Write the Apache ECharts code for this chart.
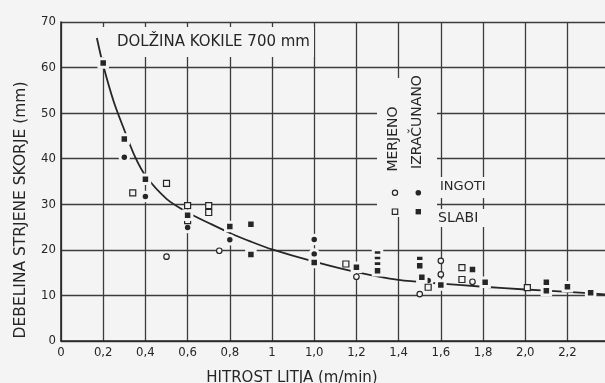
<!DOCTYPE html>
<html>
<head>
<meta charset="utf-8">
<script src="https://cdn.jsdelivr.net/npm/echarts@6/dist/echarts.min.js"></script>
<style>
  html, body { margin: 0; padding: 0; background: #f4f4f4; }
  #chart { width: 605px; height: 383px; }
</style>
</head>
<body>
<div id="chart"></div>
<script>
// Casting speed axis: equally spaced steps of 0.2, printed labels below
const xTickLabels = ['0', '0,2', '0,4', '0,6', '0,8', '1', '1,0', '1,2', '1,4', '1,6', '1,8', '2,0', '2,2'];
const yTicks = [0, 10, 20, 30, 40, 50, 60, 70];

// Fitted shell-thickness curve (axis position, mm)
const curveX = [0.17, 0.2, 0.25, 0.3, 0.35, 0.4, 0.5, 0.6, 0.7, 0.8, 0.9, 1.0, 1.2, 1.4, 1.6, 1.8, 2.0, 2.2, 2.4, 2.58];
const curveY = [66.5, 60.5, 52.5, 46.3, 40.5, 36.3, 31.2, 28.2, 25.9, 23.7, 21.8, 20.1, 17.4, 15.1, 13.4, 12.6, 11.9, 11.3, 10.8, 10.2];

// Ingots, measured (open circles)
const ingMeasX = [0.5, 0.75, 1.4, 1.7, 1.8, 1.8, 1.95];
const ingMeasY = [18.5, 19.8, 14.1, 10.3, 17.6, 14.6, 13.0];

// Ingots, calculated (filled dots)
const ingCalcX = [0.3, 0.4, 0.6, 0.8, 1.2, 1.2, 1.74];
const ingCalcY = [40.3, 31.7, 24.9, 22.2, 22.3, 19.1, 13.3];

// Slabs, measured (open squares)
const slabMeasX = [0.34, 0.5, 0.6, 0.6, 0.7, 0.7, 1.35, 1.74, 1.9, 1.9, 2.21];
const slabMeasY = [32.5, 34.6, 29.7, 26.4, 29.7, 28.2, 16.9, 11.8, 16.1, 13.5, 11.7];

// Slabs, calculated (filled squares)
const slabCalcX = [0.2, 0.3, 0.4, 0.6, 0.8, 0.9, 0.9, 1.2, 1.4, 1.5, 1.5, 1.5, 1.5, 1.7, 1.7, 1.71, 1.8, 1.95, 2.01, 2.3, 2.3, 2.4, 2.51];
const slabCalcY = [61, 44.3, 35.5, 27.6, 25.1, 25.6, 19.0, 17.2, 16.2, 19.1, 17.9, 16.7, 15.4, 17.9, 16.5, 14.0, 12.3, 15.7, 12.9, 12.9, 11.0, 11.9, 10.6];

const BG = '#f4f4f4';
const INK = '#262626';
const GRID_INK = '#3c3c3c';
const LABEL_FONT = '"DejaVu Sans Condensed", "DejaVu Sans", sans-serif';
const TEXT_FONT = '"DejaVu Sans", sans-serif';

const zip = (xs, ys) => xs.map((x, i) => [x, ys[i]]);

const chart = echarts.init(document.getElementById('chart'), null, { renderer: 'canvas' });

// filled marks get a ring in the paper colour so lines break around them
const filledStyle = { color: INK, borderColor: BG, borderWidth: 3, opacity: 1 };
const openStyle = { color: BG, borderColor: INK, borderWidth: 1.2, opacity: 1 };

chart.setOption({
  backgroundColor: BG,
  animation: false,
  grid: { left: 61, right: 0, top: 22, bottom: 42, containLabel: false },
  xAxis: {
    type: 'value',
    min: 0,
    max: 2.578,
    interval: 0.2,
    axisLine: { show: true, lineStyle: { color: INK, width: 1.6 } },
    axisTick: { show: false },
    axisLabel: {
      margin: 5,
      color: INK,
      fontFamily: LABEL_FONT,
      fontSize: 13,
      showMaxLabel: false,
      formatter: v => {
        const i = Math.round(v / 0.2);
        return Math.abs(v - i * 0.2) < 1e-6 && xTickLabels[i] !== undefined ? xTickLabels[i] : '';
      }
    },
    splitLine: { show: true, showMaxLine: false, lineStyle: { color: GRID_INK, width: 1.3 } }
  },
  yAxis: {
    type: 'value',
    min: yTicks[0],
    max: yTicks[yTicks.length - 1],
    interval: 10,
    axisLine: { show: true, lineStyle: { color: INK, width: 1.6 } },
    axisTick: { show: false },
    axisLabel: { margin: 5, color: INK, fontFamily: LABEL_FONT, fontSize: 13 },
    splitLine: { show: true, lineStyle: { color: GRID_INK, width: 1.3 } }
  },
  graphic: [
    // clear patches behind the lettering
    { type: 'rect', z: 1, shape: { x: 94, y: 27, width: 220, height: 30 }, style: { fill: BG } },
    { type: 'rect', z: 1, shape: { x: 377, y: 78, width: 60, height: 139 }, style: { fill: BG } },
    { type: 'rect', z: 1, shape: { x: 437, y: 177, width: 52, height: 21 }, style: { fill: BG } },
    { type: 'rect', z: 1, shape: { x: 437, y: 209, width: 48, height: 18 }, style: { fill: BG } },
    { type: 'text', z: 5, x: 117, y: 42, style: { text: 'DOLŽINA KOKILE 700 mm', fill: INK, font: '15px ' + TEXT_FONT, align: 'left', verticalAlign: 'middle' } },
    { type: 'text', z: 5, x: 393, y: 139, rotation: Math.PI / 2, style: { text: 'MERJENO', fill: INK, font: '14px ' + TEXT_FONT, align: 'center', verticalAlign: 'middle' } },
    { type: 'text', z: 5, x: 417, y: 122, rotation: Math.PI / 2, style: { text: 'IZRAČUNANO', fill: INK, font: '14px ' + TEXT_FONT, align: 'center', verticalAlign: 'middle' } },
    { type: 'circle', z: 5, shape: { cx: 395, cy: 192.7, r: 2.6 }, style: { fill: BG, stroke: INK, lineWidth: 1.2 } },
    { type: 'circle', z: 5, shape: { cx: 418.3, cy: 192.7, r: 2.8 }, style: { fill: INK } },
    { type: 'rect', z: 5, shape: { x: 392.3, y: 209, width: 5.4, height: 5.4 }, style: { fill: BG, stroke: INK, lineWidth: 1.2 } },
    { type: 'rect', z: 5, shape: { x: 415.6, y: 209, width: 5.4, height: 5.4 }, style: { fill: INK } },
    { type: 'text', z: 5, x: 440, y: 187, style: { text: 'INGOTI', fill: INK, font: '13px ' + TEXT_FONT, align: 'left', verticalAlign: 'middle' } },
    { type: 'text', z: 5, x: 438, y: 218, style: { text: 'SLABI', fill: INK, font: '14px ' + TEXT_FONT, align: 'left', verticalAlign: 'middle' } },
    // axis titles
    { type: 'text', z: 5, x: 21, y: 210, rotation: Math.PI / 2, style: { text: 'DEBELINA STRJENE SKORJE (mm)', fill: INK, font: '15.5px ' + TEXT_FONT, align: 'center', verticalAlign: 'middle' } },
    { type: 'text', z: 5, x: 292, y: 378, style: { text: 'HITROST LITJA (m/min)', fill: INK, font: '15px ' + TEXT_FONT, align: 'center', verticalAlign: 'middle' } }
  ],
  series: [
    {
      name: 'krivulja',
      type: 'line',
      z: 2,
      data: zip(curveX, curveY),
      smooth: 0.3,
      showSymbol: false,
      lineStyle: { color: INK, width: 1.8 }
    },
    {
      name: 'ingoti merjeno',
      type: 'scatter',
      z: 3,
      data: zip(ingMeasX, ingMeasY),
      symbol: 'circle',
      symbolSize: 5.5,
      itemStyle: openStyle
    },
    {
      name: 'ingoti izračunano',
      type: 'scatter',
      z: 3,
      data: zip(ingCalcX, ingCalcY),
      symbol: 'circle',
      symbolSize: 8.5,
      itemStyle: filledStyle
    },
    {
      name: 'slabi merjeno',
      type: 'scatter',
      z: 3,
      data: zip(slabMeasX, slabMeasY),
      symbol: 'rect',
      symbolSize: 6,
      itemStyle: openStyle
    },
    {
      name: 'slabi izračunano',
      type: 'scatter',
      z: 3,
      data: zip(slabCalcX, slabCalcY),
      symbol: 'rect',
      symbolSize: 8.5,
      itemStyle: filledStyle
    }
  ]
});
</script>
</body>
</html>
